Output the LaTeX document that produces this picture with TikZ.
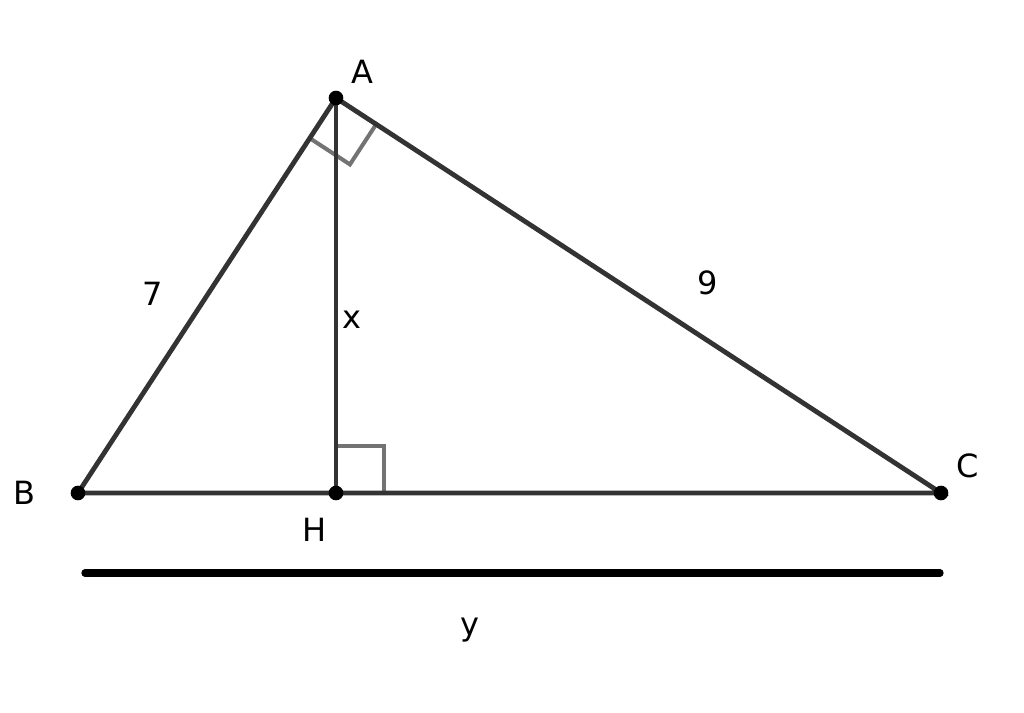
\documentclass[tikz,border=0pt]{standalone}
\usepackage{fontspec}
\setmainfont{DejaVu Sans}
\usetikzlibrary{calc}
\begin{document}
\begin{tikzpicture}[x=0.75pt,y=-0.75pt,
  edge/.style={line width=3.6pt,draw=black!80},
  ramark/.style={line width=3pt,draw=black!55},
  dot/.style={circle,fill=black,inner sep=0pt,minimum size=11pt},
  lbl/.style={font=\fontsize{24}{24}\selectfont,inner sep=0pt}]
\useasboundingbox (0,0) rectangle (1024,713);
\fill[white] (0,0) rectangle (1024,713);
\coordinate (A) at (336,98);
\coordinate (B) at (78,493);
\coordinate (C) at (941,493);
\coordinate (H) at (336,493);
% right angle marks
\coordinate (a1) at ($(A)!36pt!(B)$);
\coordinate (a2) at ($(A)!36pt!(C)$);
\coordinate (a3) at ($(a1)+(a2)-(A)$);
\draw[ramark] (a1) -- (a3) -- (a2);
\coordinate (h1) at (336,446);
\coordinate (h2) at (384,446);
\coordinate (h3) at (384,493);
\draw[ramark] (h1) -- (h2) -- (h3);
\draw[edge] (A) -- (B) -- (C) -- cycle;
\draw[edge] (A) -- (H);
\node[dot] (nA) at (A) {};
\node[dot] (nB) at (B) {};
\node[dot] (nC) at (C) {};
\node[dot] (nH) at (H) {};
\coordinate (L1) at (85,573);
\coordinate (L2) at (940,573);
\draw[line width=5.5pt,line cap=round] (L1) -- (L2);
\node[lbl] (tA) at (362,72) {A};
\node[lbl] (tB) at (24,493) {B};
\node[lbl] (tC) at (968,466) {C};
\node[lbl] (tH) at (315,530) {H};
\node[lbl] (t7) at (153,294) {7};
\node[lbl] (t9) at (708,283) {9};
\node[lbl] (tx) at (352,320) {x};
\node[lbl] (ty) at (470,630) {y};
\end{tikzpicture}
\end{document}
